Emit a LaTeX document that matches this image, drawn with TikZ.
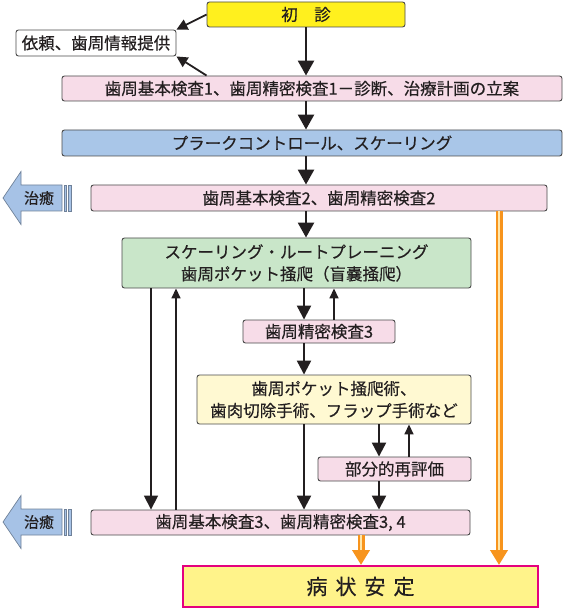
\documentclass[tikz,border=0pt]{standalone}
\usepackage{fontspec}
\setmainfont{Noto Sans CJK JP}[FakeBold=0.4]
\usetikzlibrary{arrows.meta}
\definecolor{txt}{HTML}{231F20}
\definecolor{edge}{HTML}{4A4A4A}
\definecolor{yel}{HTML}{FFF01E}
\definecolor{pinkc}{HTML}{F7DCE8}
\definecolor{bluec}{HTML}{A9C6E8}
\definecolor{greenc}{HTML}{C9E6C9}
\definecolor{lyel}{HTML}{FFF9D2}
\definecolor{stfill}{HTML}{FFF38A}
\definecolor{stedge}{HTML}{E4007F}
\definecolor{cureblue}{HTML}{A6C2E6}
\definecolor{cureedge}{HTML}{6F8199}
\definecolor{orangec}{HTML}{F7941D}
\definecolor{orangein}{HTML}{FFE6A8}
\newcommand\fsm{\fontsize{16.5}{22}\selectfont}
\newcommand\fsc{\fontsize{15}{18}\selectfont}
\newcommand\fsl{\fontsize{21}{24}\selectfont}
\begin{document}
\begin{tikzpicture}[x=1pt,y=-1pt,
  box/.style={draw=edge, line width=0.9pt, rounded corners=2.5pt, inner sep=0pt,
    font=\fsm, text=txt, align=center},
  mainarr/.style={draw=txt, line width=2.6pt, -{Triangle[width=16pt,length=15pt]}},
  downarr/.style={draw=txt, line width=2.2pt, -{Triangle[width=14pt,length=14pt]}},
  thindown/.style={draw=txt, line width=1.7pt, -{Triangle[width=14pt,length=14pt]}},
  uparr/.style={draw=txt, line width=1.6pt, -{Triangle[width=9pt,length=10pt]}},
  sidearr/.style={draw=txt, line width=1.8pt, -{Triangle[width=11pt,length=11pt]}},
  orarr/.style={draw=orangec, line width=7pt, -{Triangle[width=17pt,length=15pt]}},
  orin/.style={draw=orangein, line width=2.2pt, shorten >=15pt},
  curefill/.style={fill=cureblue, draw=cureedge, line width=0.7pt}]
\useasboundingbox (0,0) rectangle (567,609);

% boxes
\node[box, fill=yel, minimum width=198pt, minimum height=25pt] (shoshin) at (306,14.5) {初　診};
\node[box, fill=white, minimum width=160pt, minimum height=26pt] (irai) at (96,43) {依頼、歯周情報提供};
\node[box, fill=pinkc, minimum width=500pt, minimum height=25pt] (b1) at (312,88.5) {歯周基本検査1、歯周精密検査1－診断、治療計画の立案};
\node[box, fill=bluec, minimum width=500pt, minimum height=26pt] (plq) at (312,143) {プラークコントロール、スケーリング};
\node[box, fill=pinkc, minimum width=456pt, minimum height=26pt] (b2) at (319,198) {歯周基本検査2、歯周精密検査2};
\node[box, fill=greenc, minimum width=349pt, minimum height=50pt] (grn) at (296.5,263) {スケーリング・ルートプレーニング\\歯周ポケット掻爬（盲嚢掻爬）};
\node[box, fill=pinkc, minimum width=152pt, minimum height=23pt] (p3) at (319,331.5) {歯周精密検査3};
\node[box, fill=lyel, minimum width=274pt, minimum height=49pt] (sur) at (334,399.5) {歯周ポケット掻爬術、\\歯肉切除手術、フラップ手術など};
\node[box, fill=pinkc, minimum width=153pt, minimum height=24pt] (part) at (394.5,469) {部分的再評価};
\node[box, fill=pinkc, minimum width=379pt, minimum height=25pt] (b3) at (280.5,522.5) {歯周基本検査3、歯周精密検査3, 4};
\node[draw=stedge, line width=2pt, fill=stfill, inner sep=0pt, minimum width=355pt, minimum height=41pt, font=\fsl, text=txt] (st) at (360.5,586.5) {病\hspace{8pt}状\hspace{8pt}安\hspace{8pt}定};

% cure arrows
\foreach \cy/\nm in {198/cureA,522/cureB}{
  \draw[curefill] (3,\cy) -- (21,\cy-26.5) -- (21,\cy-13) -- (62,\cy-13) -- (62,\cy+13) -- (21,\cy+13) -- (21,\cy+26.5) -- cycle;
  \draw[curefill] (64,\cy-13) rectangle (66.5,\cy+13);
  \draw[curefill] (68,\cy-13) rectangle (71,\cy+13);
  \node[font=\fsc, text=txt, inner sep=0pt] (\nm) at (39,\cy) {治癒};
}

% column coordinates
\coordinate (x151) at (151,0);
\coordinate (x176) at (176,0);
\coordinate (x304) at (304,0);
\coordinate (x334) at (334,0);
\coordinate (x379) at (379,0);
\coordinate (x409) at (409,0);
\coordinate (x361) at (361,0);
\coordinate (x499) at (499,0);

% top side arrows
\draw[sidearr] (shoshin.west) -- (irai.north east);
\draw[sidearr] (b1.north -| shoshin.west) -- (irai.south east);

% main column
\draw[mainarr] (shoshin.south) -- (shoshin.south |- b1.north);
\draw[mainarr] (b1.south -| shoshin.south) -- (shoshin.south |- plq.north);
\draw[mainarr] (plq.south -| shoshin.south) -- (shoshin.south |- b2.north);
\draw[mainarr] (b2.south -| shoshin.south) -- (shoshin.south |- grn.north);

% middle
\draw[downarr] (grn.south -| x304) -- (p3.north -| x304);
\draw[uparr] (p3.north -| x334) -- (grn.south -| x334);
\draw[downarr] (p3.south -| x304) -- (sur.north -| x304);
\draw[downarr] (sur.south -| x304) -- (b3.north -| x304);
\draw[downarr] (sur.south -| x379) -- (part.north -| x379);
\draw[uparr] (part.north -| x409) -- (sur.south -| x409);
\draw[downarr] (part.south -| x379) -- (b3.north -| x379);

% left loop
\draw[thindown] (grn.south -| x151) -- (b3.north -| x151);
\draw[uparr] (b3.north -| x176) -- (grn.south -| x176);

% orange arrows
\draw[orarr] (b2.south -| x499) -- (st.north -| x499);
\draw[orin] (b2.south -| x499) -- (st.north -| x499);
\draw[orarr] (b3.south -| x361) -- (st.north -| x361);
\draw[orin] (b3.south -| x361) -- (st.north -| x361);
\end{tikzpicture}
\end{document}
